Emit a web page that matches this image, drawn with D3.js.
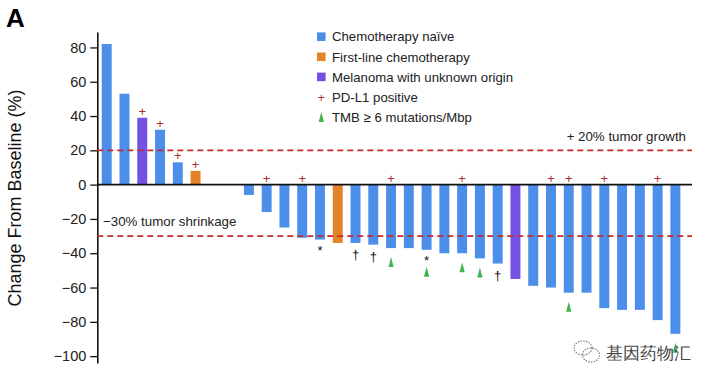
<!DOCTYPE html>
<html>
<head>
<meta charset="utf-8">
<title>Waterfall</title>
<script src="https://cdn.jsdelivr.net/npm/d3@7"></script>
<style>
  body { margin: 0; background: #fff; }
  text { font-family: "Liberation Sans", Arial, sans-serif; }
</style>
</head>
<body>
<div id="chart"></div>
<script>
// best change from baseline per patient (%), left to right
const change = [82, 53, 39, 32, 13, 8, 0, 0, -6, -16, -25, -31, -32, -34, -34, -35,
                -37, -37, -38, -40, -40, -43, -46, -55, -59, -60, -63, -63, -72, -73, -73, -79, -87];
// treatment group per patient
const group = ["naive", "naive", "unknown", "naive", "naive", "first", "naive", "naive",
               "naive", "naive", "naive", "naive", "naive", "first", "naive", "naive",
               "naive", "naive", "naive", "naive", "naive", "naive", "naive", "unknown",
               "naive", "naive", "naive", "naive", "naive", "naive", "naive", "naive", "naive"];
// marker indices
const pdl1 = [2, 3, 4, 5, 9, 11, 16, 20, 25, 26, 28, 31];
const tmb = [16, 18, 20, 21, 26, 32];
const dagger = [14, 15, 22];
const asterisk = [12, 18];
const yTicks = [80, 60, 40, 20, 0, -20, -40, -60, -80, -100];
const legendItems = ["Chemotherapy naïve", "First-line chemotherapy", "Melanoma with unknown origin",
                     "PD-L1 positive", "TMB \u2265 6 mutations/Mbp"];

const colors = {naive: "#4b8fea", first: "#e5822a", unknown: "#7450e4"};
const red = "#c42b2b";
const green = "#3fb54a";

const w = 714, h = 383;
const svg = d3.select("#chart").append("svg")
    .attr("width", w).attr("height", h);

const y = d3.scaleLinear().domain([-104, 89]).range([363, 32]);
const x = d3.scaleBand()
    .domain(d3.range(change.length))
    .range([97.3, 684.8])
    .paddingInner(0.44)
    .paddingOuter(0.25);
const lineEnd = 692;

// panel letter
svg.append("text").attr("x", 6).attr("y", 27)
    .attr("font-size", "26px").attr("font-weight", "bold").text("A");

// axis title
svg.append("text")
    .attr("transform", "translate(21,198) rotate(-90)")
    .attr("text-anchor", "middle")
    .attr("font-size", "18px").attr("fill", "#111")
    .text("Change From Baseline (%)");

// y axis
const yAxis = d3.axisLeft(y).tickValues(yTicks).tickSize(7).tickSizeOuter(0).tickPadding(4);
const gy = svg.append("g").attr("transform", "translate(97.3,0)").call(yAxis);
gy.select(".domain").attr("stroke", "#111").attr("stroke-width", 1.6);
gy.selectAll(".tick line").attr("stroke", "#111").attr("stroke-width", 1.3);
gy.selectAll(".tick text").attr("font-size", "14.5px").attr("fill", "#222")
    .attr("font-family", "Liberation Sans, Arial, sans-serif");

// bars
svg.selectAll("rect.bar")
    .data(change)
    .enter().append("rect")
    .attr("class", "bar")
    .attr("x", (d, i) => x(i))
    .attr("width", x.bandwidth())
    .attr("y", d => y(Math.max(d, 0)))
    .attr("height", d => Math.abs(y(d) - y(0)))
    .attr("fill", (d, i) => colors[group[i]]);

// reference lines
[20, -30].forEach(v => {
  svg.append("line")
      .attr("x1", 97.3).attr("x2", lineEnd)
      .attr("y1", y(v)).attr("y2", y(v))
      .attr("stroke", red).attr("stroke-width", 1.6)
      .attr("stroke-dasharray", "6,4");
});
svg.append("line")
    .attr("x1", 97.3).attr("x2", lineEnd)
    .attr("y1", y(0)).attr("y2", y(0))
    .attr("stroke", "#111").attr("stroke-width", 1.6);

svg.append("text").attr("x", 686).attr("y", y(20) - 9)
    .attr("text-anchor", "end").attr("font-size", "13.3px").attr("fill", "#222")
    .text("+ 20% tumor growth");
svg.append("text").attr("x", 103).attr("y", y(-30) - 10)
    .attr("font-size", "13.3px").attr("fill", "#222")
    .text("\u221230% tumor shrinkage");

const cx = i => x(i) + x.bandwidth() / 2;

// PD-L1 plus signs
svg.selectAll("text.plus")
    .data(pdl1)
    .enter().append("text")
    .attr("class", "plus")
    .attr("x", i => cx(i))
    .attr("y", i => y(Math.max(change[i], 0)) - 2)
    .attr("text-anchor", "middle")
    .attr("font-size", "13px").attr("fill", "#b0282e")
    .text("+");

// daggers and asterisks
svg.selectAll("text.dag")
    .data(dagger)
    .enter().append("text")
    .attr("class", "dag")
    .attr("x", i => cx(i))
    .attr("y", i => y(change[i]) + 16)
    .attr("text-anchor", "middle")
    .attr("font-size", "13px").attr("fill", "#111")
    .text("\u2020");
svg.selectAll("text.ast")
    .data(asterisk)
    .enter().append("text")
    .attr("class", "ast")
    .attr("x", i => cx(i))
    .attr("y", i => y(change[i]) + 15)
    .attr("text-anchor", "middle")
    .attr("font-size", "13px").attr("fill", "#111")
    .text("*");

// TMB triangles
function tri(px, top) {
  return `M${px},${top} L${px + 2.6},${top + 10} L${px - 2.6},${top + 10} Z`;
}
svg.selectAll("path.tmb")
    .data(tmb)
    .enter().append("path")
    .attr("class", "tmb")
    .attr("d", i => tri(cx(i), y(change[i]) + (asterisk.includes(i) ? 17 : 9)))
    .attr("fill", green);

// legend
const lg = svg.append("g").attr("transform", "translate(317,0)");
legendItems.forEach((t, k) => {
  const cy = 36.7 + k * 20.1;
  if (k < 3) {
    lg.append("rect").attr("x", 0).attr("y", cy - 4.3).attr("width", 8.6).attr("height", 8.6)
        .attr("fill", colors[["naive", "first", "unknown"][k]]);
  } else if (k === 3) {
    lg.append("text").attr("x", 4.3).attr("y", cy + 4.5).attr("text-anchor", "middle")
        .attr("font-size", "12px").attr("fill", "#b0282e").text("+");
  } else {
    lg.append("path").attr("d", tri(4.3, cy - 5)).attr("fill", green);
  }
  lg.append("text").attr("x", 15).attr("y", cy + 4.7)
      .attr("font-size", "13.2px").attr("fill", "#222").text(t);
});

// watermark
const wm = svg.append("g").attr("fill", "none").attr("stroke", "#777")
    .attr("stroke-width", 1.1).attr("stroke-dasharray", "1.5,1.2");
wm.append("ellipse").attr("cx", 583).attr("cy", 348).attr("rx", 9).attr("ry", 7);
wm.append("ellipse").attr("cx", 591).attr("cy", 355).attr("rx", 8.5).attr("ry", 7);
svg.append("text").attr("x", 606).attr("y", 359)
    .attr("font-family", "Noto Sans CJK SC").attr("font-size", "17px")
    .attr("fill", "#444")
    .text("基因药物汇");
</script>
</body>
</html>
